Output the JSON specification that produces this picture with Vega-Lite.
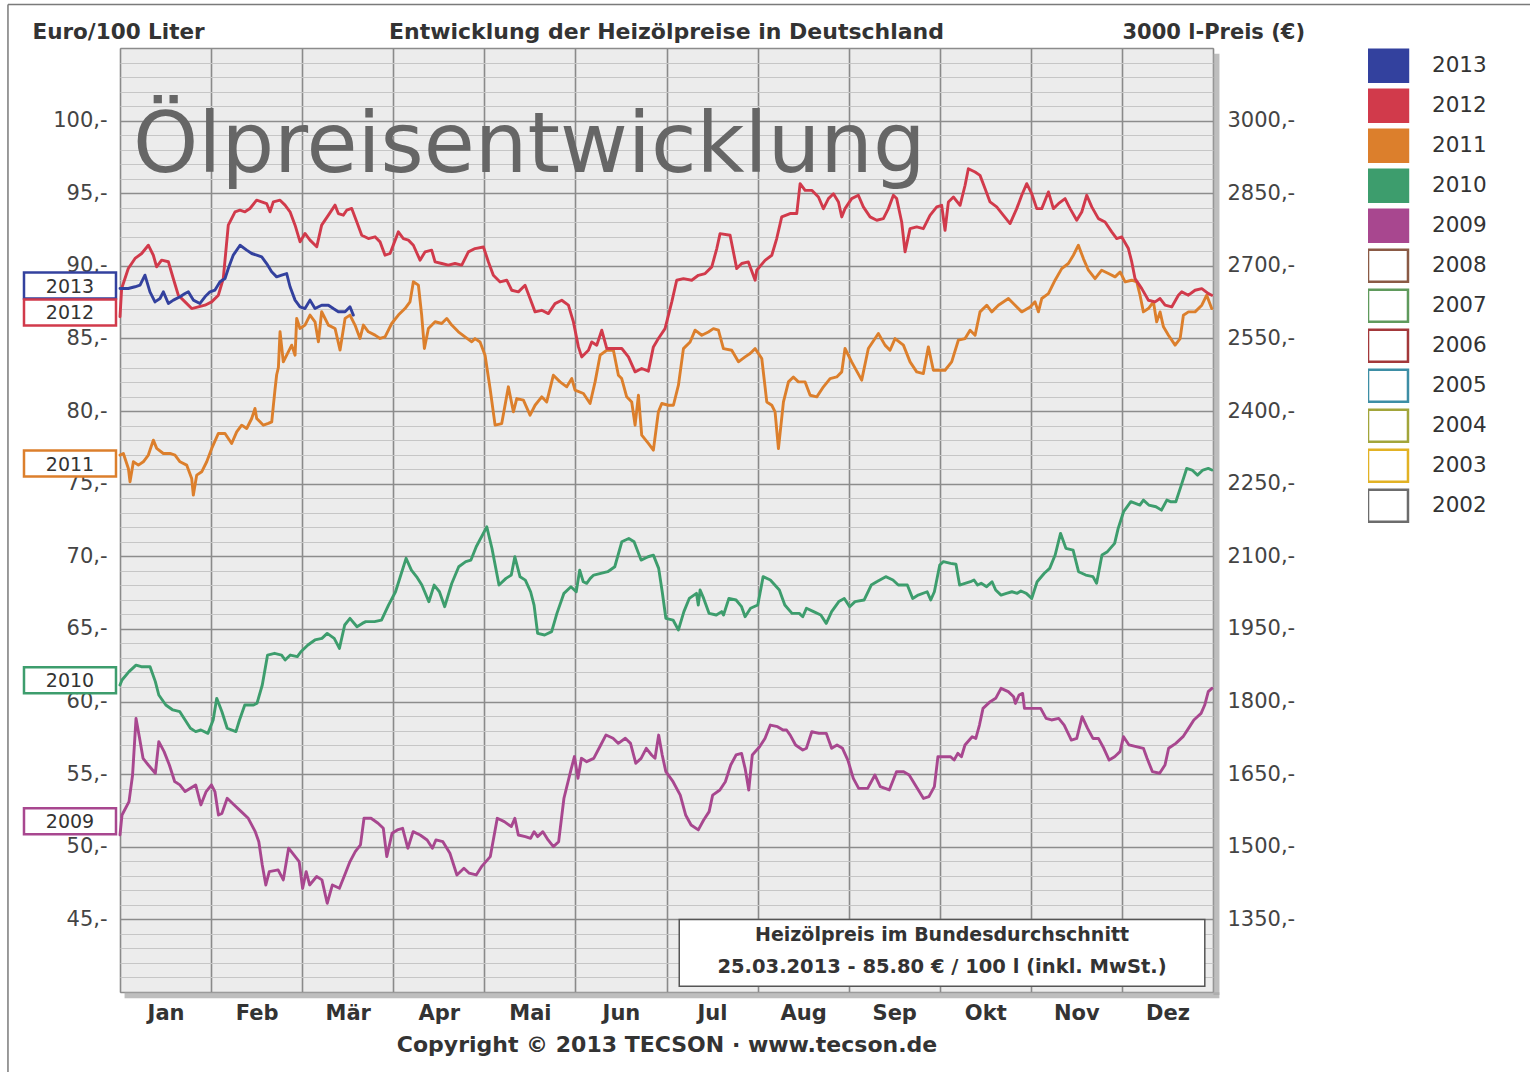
{
"$schema":"https://vega.github.io/schema/vega-lite/v6.json",
"width":1093,"height":944,
"autosize":{"type":"none"},
"padding":{"left":120,"top":48,"right":317,"bottom":80},
"background":"#ffffff",
"config":{"font":"DejaVu Sans","view":{"fill":"#ececec","stroke":"#9a9a9a","strokeWidth":1}},
"title":{"text":"Entwicklung der Heizölpreise in Deutschland","anchor":"middle","fontSize":22,"fontWeight":"bold","color":"#333333","offset":-40,"font":"DejaVu Sans"},
"data":{"values":[
{"year":"2009","m":0,"v":50.82},{"year":"2009","m":0.022,"v":52.19},{"year":"2009","m":0.099,"v":53.11},{"year":"2009","m":0.138,"v":54.94},{"year":"2009","m":0.176,"v":58.84},{"year":"2009","m":0.215,"v":57.47},{"year":"2009","m":0.253,"v":56.09},{"year":"2009","m":0.311,"v":55.63},{"year":"2009","m":0.388,"v":55.06},{"year":"2009","m":0.426,"v":57.24},{"year":"2009","m":0.484,"v":56.55},{"year":"2009","m":0.542,"v":55.63},{"year":"2009","m":0.6,"v":54.49},{"year":"2009","m":0.657,"v":54.26},{"year":"2009","m":0.715,"v":53.8},{"year":"2009","m":0.773,"v":54.03},{"year":"2009","m":0.831,"v":54.26},{"year":"2009","m":0.888,"v":52.88},{"year":"2009","m":0.946,"v":53.8},{"year":"2009","m":1.004,"v":54.26},{"year":"2009","m":1.042,"v":53.8},{"year":"2009","m":1.081,"v":52.19},{"year":"2009","m":1.119,"v":52.3},{"year":"2009","m":1.177,"v":53.34},{"year":"2009","m":1.254,"v":52.88},{"year":"2009","m":1.331,"v":52.42},{"year":"2009","m":1.408,"v":51.96},{"year":"2009","m":1.485,"v":51.04},{"year":"2009","m":1.524,"v":50.35},{"year":"2009","m":1.562,"v":48.75},{"year":"2009","m":1.601,"v":47.37},{"year":"2009","m":1.639,"v":48.29},{"year":"2009","m":1.736,"v":48.41},{"year":"2009","m":1.793,"v":47.72},{"year":"2009","m":1.851,"v":49.9},{"year":"2009","m":1.909,"v":49.44},{"year":"2009","m":1.967,"v":48.98},{"year":"2009","m":2.005,"v":47.14},{"year":"2009","m":2.044,"v":48.29},{"year":"2009","m":2.082,"v":47.37},{"year":"2009","m":2.159,"v":47.95},{"year":"2009","m":2.217,"v":47.72},{"year":"2009","m":2.275,"v":46.11},{"year":"2009","m":2.332,"v":47.37},{"year":"2009","m":2.409,"v":47.14},{"year":"2009","m":2.467,"v":48.06},{"year":"2009","m":2.525,"v":48.98},{"year":"2009","m":2.583,"v":49.67},{"year":"2009","m":2.64,"v":50.13},{"year":"2009","m":2.679,"v":51.96},{"year":"2009","m":2.756,"v":51.96},{"year":"2009","m":2.833,"v":51.62},{"year":"2009","m":2.891,"v":51.27},{"year":"2009","m":2.929,"v":49.32},{"year":"2009","m":2.987,"v":50.93},{"year":"2009","m":3.045,"v":51.16},{"year":"2009","m":3.103,"v":51.27},{"year":"2009","m":3.16,"v":49.9},{"year":"2009","m":3.218,"v":51.04},{"year":"2009","m":3.295,"v":50.81},{"year":"2009","m":3.372,"v":50.47},{"year":"2009","m":3.43,"v":49.9},{"year":"2009","m":3.468,"v":50.47},{"year":"2009","m":3.545,"v":50.35},{"year":"2009","m":3.622,"v":49.55},{"year":"2009","m":3.699,"v":48.06},{"year":"2009","m":3.776,"v":48.52},{"year":"2009","m":3.834,"v":48.18},{"year":"2009","m":3.911,"v":48.06},{"year":"2009","m":3.969,"v":48.63},{"year":"2009","m":4.065,"v":49.32},{"year":"2009","m":4.142,"v":51.96},{"year":"2009","m":4.219,"v":51.73},{"year":"2009","m":4.296,"v":51.39},{"year":"2009","m":4.335,"v":51.96},{"year":"2009","m":4.373,"v":50.81},{"year":"2009","m":4.45,"v":50.7},{"year":"2009","m":4.508,"v":50.58},{"year":"2009","m":4.546,"v":51.04},{"year":"2009","m":4.585,"v":50.7},{"year":"2009","m":4.643,"v":51.04},{"year":"2009","m":4.7,"v":50.47},{"year":"2009","m":4.758,"v":50.01},{"year":"2009","m":4.816,"v":50.35},{"year":"2009","m":4.874,"v":53.34},{"year":"2009","m":4.951,"v":55.29},{"year":"2009","m":4.989,"v":56.21},{"year":"2009","m":5.028,"v":54.72},{"year":"2009","m":5.066,"v":56.09},{"year":"2009","m":5.124,"v":55.86},{"year":"2009","m":5.201,"v":56.09},{"year":"2009","m":5.278,"v":57.01},{"year":"2009","m":5.336,"v":57.7},{"year":"2009","m":5.413,"v":57.47},{"year":"2009","m":5.471,"v":57.12},{"year":"2009","m":5.548,"v":57.47},{"year":"2009","m":5.605,"v":57.12},{"year":"2009","m":5.663,"v":55.75},{"year":"2009","m":5.721,"v":56.09},{"year":"2009","m":5.778,"v":56.78},{"year":"2009","m":5.836,"v":56.32},{"year":"2009","m":5.874,"v":56.09},{"year":"2009","m":5.914,"v":57.69},{"year":"2009","m":5.953,"v":56.32},{"year":"2009","m":5.993,"v":55.17},{"year":"2009","m":6.072,"v":54.48},{"year":"2009","m":6.151,"v":53.56},{"year":"2009","m":6.21,"v":52.19},{"year":"2009","m":6.27,"v":51.5},{"year":"2009","m":6.349,"v":51.16},{"year":"2009","m":6.408,"v":51.84},{"year":"2009","m":6.468,"v":52.42},{"year":"2009","m":6.507,"v":53.56},{"year":"2009","m":6.586,"v":53.91},{"year":"2009","m":6.646,"v":54.48},{"year":"2009","m":6.705,"v":55.63},{"year":"2009","m":6.764,"v":56.32},{"year":"2009","m":6.824,"v":56.43},{"year":"2009","m":6.863,"v":55.4},{"year":"2009","m":6.903,"v":53.91},{"year":"2009","m":6.942,"v":56.32},{"year":"2009","m":7.022,"v":56.89},{"year":"2009","m":7.081,"v":57.46},{"year":"2009","m":7.14,"v":58.38},{"year":"2009","m":7.219,"v":58.27},{"year":"2009","m":7.279,"v":58.04},{"year":"2009","m":7.318,"v":58.04},{"year":"2009","m":7.358,"v":57.69},{"year":"2009","m":7.417,"v":57.01},{"year":"2009","m":7.496,"v":56.66},{"year":"2009","m":7.536,"v":56.78},{"year":"2009","m":7.595,"v":57.92},{"year":"2009","m":7.674,"v":57.81},{"year":"2009","m":7.754,"v":57.81},{"year":"2009","m":7.813,"v":56.78},{"year":"2009","m":7.872,"v":57.01},{"year":"2009","m":7.932,"v":56.78},{"year":"2009","m":7.991,"v":55.97},{"year":"2009","m":8.051,"v":54.71},{"year":"2009","m":8.11,"v":54.02},{"year":"2009","m":8.209,"v":54.02},{"year":"2009","m":8.288,"v":54.94},{"year":"2009","m":8.347,"v":54.14},{"year":"2009","m":8.446,"v":53.91},{"year":"2009","m":8.525,"v":55.17},{"year":"2009","m":8.604,"v":55.17},{"year":"2009","m":8.664,"v":54.94},{"year":"2009","m":8.743,"v":54.14},{"year":"2009","m":8.822,"v":53.33},{"year":"2009","m":8.881,"v":53.45},{"year":"2009","m":8.941,"v":54.14},{"year":"2009","m":8.98,"v":56.2},{"year":"2009","m":9.06,"v":56.2},{"year":"2009","m":9.119,"v":56.2},{"year":"2009","m":9.158,"v":55.97},{"year":"2009","m":9.198,"v":56.43},{"year":"2009","m":9.238,"v":56.2},{"year":"2009","m":9.277,"v":57.01},{"year":"2009","m":9.356,"v":57.58},{"year":"2009","m":9.396,"v":57.46},{"year":"2009","m":9.436,"v":58.38},{"year":"2009","m":9.475,"v":59.53},{"year":"2009","m":9.554,"v":59.99},{"year":"2009","m":9.614,"v":60.22},{"year":"2009","m":9.673,"v":60.91},{"year":"2009","m":9.752,"v":60.68},{"year":"2009","m":9.811,"v":60.33},{"year":"2009","m":9.831,"v":59.87},{"year":"2009","m":9.871,"v":60.45},{"year":"2009","m":9.91,"v":60.56},{"year":"2009","m":9.93,"v":59.53},{"year":"2009","m":10.01,"v":59.53},{"year":"2009","m":10.108,"v":59.53},{"year":"2009","m":10.168,"v":58.84},{"year":"2009","m":10.227,"v":58.73},{"year":"2009","m":10.306,"v":58.84},{"year":"2009","m":10.366,"v":58.38},{"year":"2009","m":10.445,"v":57.35},{"year":"2009","m":10.504,"v":57.46},{"year":"2009","m":10.563,"v":58.96},{"year":"2009","m":10.623,"v":58.15},{"year":"2009","m":10.682,"v":57.46},{"year":"2009","m":10.742,"v":57.46},{"year":"2009","m":10.801,"v":56.78},{"year":"2009","m":10.86,"v":55.97},{"year":"2009","m":10.92,"v":56.2},{"year":"2009","m":10.979,"v":56.55},{"year":"2009","m":11.018,"v":57.58},{"year":"2009","m":11.078,"v":57.01},{"year":"2009","m":11.157,"v":56.89},{"year":"2009","m":11.236,"v":56.78},{"year":"2009","m":11.276,"v":56.09},{"year":"2009","m":11.335,"v":55.17},{"year":"2009","m":11.414,"v":55.06},{"year":"2009","m":11.473,"v":55.63},{"year":"2009","m":11.513,"v":56.78},{"year":"2009","m":11.592,"v":57.12},{"year":"2009","m":11.671,"v":57.58},{"year":"2009","m":11.731,"v":58.15},{"year":"2009","m":11.79,"v":58.73},{"year":"2009","m":11.869,"v":59.18},{"year":"2009","m":11.909,"v":59.76},{"year":"2009","m":11.948,"v":60.68},{"year":"2009","m":11.988,"v":60.91},
{"year":"2010","m":0,"v":61.14},{"year":"2010","m":0.022,"v":61.48},{"year":"2010","m":0.099,"v":62.06},{"year":"2010","m":0.176,"v":62.51},{"year":"2010","m":0.234,"v":62.4},{"year":"2010","m":0.33,"v":62.4},{"year":"2010","m":0.388,"v":61.37},{"year":"2010","m":0.426,"v":60.45},{"year":"2010","m":0.503,"v":59.76},{"year":"2010","m":0.58,"v":59.42},{"year":"2010","m":0.657,"v":59.3},{"year":"2010","m":0.715,"v":58.73},{"year":"2010","m":0.773,"v":58.16},{"year":"2010","m":0.831,"v":57.93},{"year":"2010","m":0.888,"v":58.04},{"year":"2010","m":0.965,"v":57.81},{"year":"2010","m":1.023,"v":58.73},{"year":"2010","m":1.062,"v":60.22},{"year":"2010","m":1.119,"v":59.3},{"year":"2010","m":1.177,"v":58.16},{"year":"2010","m":1.273,"v":57.93},{"year":"2010","m":1.312,"v":58.73},{"year":"2010","m":1.37,"v":59.76},{"year":"2010","m":1.466,"v":59.76},{"year":"2010","m":1.504,"v":59.88},{"year":"2010","m":1.562,"v":61.14},{"year":"2010","m":1.62,"v":63.2},{"year":"2010","m":1.697,"v":63.32},{"year":"2010","m":1.774,"v":63.2},{"year":"2010","m":1.813,"v":62.86},{"year":"2010","m":1.87,"v":63.2},{"year":"2010","m":1.947,"v":63.09},{"year":"2010","m":1.986,"v":63.43},{"year":"2010","m":2.063,"v":63.89},{"year":"2010","m":2.14,"v":64.24},{"year":"2010","m":2.217,"v":64.35},{"year":"2010","m":2.275,"v":64.69},{"year":"2010","m":2.352,"v":64.35},{"year":"2010","m":2.409,"v":63.66},{"year":"2010","m":2.467,"v":65.27},{"year":"2010","m":2.525,"v":65.73},{"year":"2010","m":2.602,"v":65.15},{"year":"2010","m":2.66,"v":65.38},{"year":"2010","m":2.698,"v":65.5},{"year":"2010","m":2.794,"v":65.5},{"year":"2010","m":2.871,"v":65.61},{"year":"2010","m":2.948,"v":66.64},{"year":"2010","m":3.025,"v":67.56},{"year":"2010","m":3.083,"v":68.71},{"year":"2010","m":3.141,"v":69.86},{"year":"2010","m":3.199,"v":69.05},{"year":"2010","m":3.257,"v":68.59},{"year":"2010","m":3.314,"v":68.02},{"year":"2010","m":3.391,"v":66.87},{"year":"2010","m":3.449,"v":68.02},{"year":"2010","m":3.507,"v":67.56},{"year":"2010","m":3.565,"v":66.53},{"year":"2010","m":3.642,"v":68.13},{"year":"2010","m":3.719,"v":69.28},{"year":"2010","m":3.796,"v":69.63},{"year":"2010","m":3.853,"v":69.74},{"year":"2010","m":3.911,"v":70.66},{"year":"2010","m":4.027,"v":72.03},{"year":"2010","m":4.084,"v":70.54},{"year":"2010","m":4.161,"v":68.02},{"year":"2010","m":4.238,"v":68.48},{"year":"2010","m":4.296,"v":68.71},{"year":"2010","m":4.335,"v":69.97},{"year":"2010","m":4.392,"v":68.59},{"year":"2010","m":4.45,"v":68.36},{"year":"2010","m":4.508,"v":67.56},{"year":"2010","m":4.546,"v":66.64},{"year":"2010","m":4.585,"v":64.69},{"year":"2010","m":4.662,"v":64.58},{"year":"2010","m":4.739,"v":64.81},{"year":"2010","m":4.797,"v":66.07},{"year":"2010","m":4.874,"v":67.45},{"year":"2010","m":4.951,"v":67.9},{"year":"2010","m":5.009,"v":67.56},{"year":"2010","m":5.047,"v":69.05},{"year":"2010","m":5.086,"v":68.25},{"year":"2010","m":5.124,"v":68.14},{"year":"2010","m":5.163,"v":68.48},{"year":"2010","m":5.201,"v":68.71},{"year":"2010","m":5.278,"v":68.82},{"year":"2010","m":5.355,"v":68.94},{"year":"2010","m":5.432,"v":69.28},{"year":"2010","m":5.509,"v":71.0},{"year":"2010","m":5.586,"v":71.23},{"year":"2010","m":5.644,"v":71.0},{"year":"2010","m":5.721,"v":69.74},{"year":"2010","m":5.798,"v":69.97},{"year":"2010","m":5.856,"v":70.08},{"year":"2010","m":5.914,"v":69.17},{"year":"2010","m":5.953,"v":67.56},{"year":"2010","m":5.993,"v":65.73},{"year":"2010","m":6.072,"v":65.61},{"year":"2010","m":6.131,"v":64.93},{"year":"2010","m":6.191,"v":66.19},{"year":"2010","m":6.25,"v":67.1},{"year":"2010","m":6.329,"v":67.45},{"year":"2010","m":6.349,"v":66.65},{"year":"2010","m":6.369,"v":67.68},{"year":"2010","m":6.408,"v":67.1},{"year":"2010","m":6.468,"v":66.07},{"year":"2010","m":6.547,"v":65.96},{"year":"2010","m":6.606,"v":66.19},{"year":"2010","m":6.626,"v":65.96},{"year":"2010","m":6.685,"v":67.1},{"year":"2010","m":6.764,"v":66.99},{"year":"2010","m":6.824,"v":66.53},{"year":"2010","m":6.863,"v":65.84},{"year":"2010","m":6.923,"v":66.42},{"year":"2010","m":7.002,"v":66.65},{"year":"2010","m":7.061,"v":68.6},{"year":"2010","m":7.14,"v":68.37},{"year":"2010","m":7.239,"v":67.68},{"year":"2010","m":7.299,"v":66.65},{"year":"2010","m":7.378,"v":66.07},{"year":"2010","m":7.457,"v":66.07},{"year":"2010","m":7.496,"v":65.84},{"year":"2010","m":7.536,"v":66.42},{"year":"2010","m":7.615,"v":66.19},{"year":"2010","m":7.694,"v":65.96},{"year":"2010","m":7.754,"v":65.38},{"year":"2010","m":7.813,"v":66.19},{"year":"2010","m":7.892,"v":66.88},{"year":"2010","m":7.952,"v":67.1},{"year":"2010","m":8.011,"v":66.53},{"year":"2010","m":8.07,"v":66.88},{"year":"2010","m":8.169,"v":66.99},{"year":"2010","m":8.248,"v":68.02},{"year":"2010","m":8.308,"v":68.25},{"year":"2010","m":8.407,"v":68.6},{"year":"2010","m":8.486,"v":68.37},{"year":"2010","m":8.545,"v":68.02},{"year":"2010","m":8.644,"v":68.02},{"year":"2010","m":8.703,"v":67.1},{"year":"2010","m":8.763,"v":67.33},{"year":"2010","m":8.862,"v":67.56},{"year":"2010","m":8.901,"v":66.99},{"year":"2010","m":8.941,"v":67.56},{"year":"2010","m":9.0,"v":69.4},{"year":"2010","m":9.04,"v":69.63},{"year":"2010","m":9.119,"v":69.51},{"year":"2010","m":9.178,"v":69.45},{"year":"2010","m":9.218,"v":68.02},{"year":"2010","m":9.277,"v":68.14},{"year":"2010","m":9.337,"v":68.25},{"year":"2010","m":9.376,"v":68.37},{"year":"2010","m":9.416,"v":68.02},{"year":"2010","m":9.455,"v":68.14},{"year":"2010","m":9.515,"v":67.91},{"year":"2010","m":9.574,"v":68.25},{"year":"2010","m":9.614,"v":67.68},{"year":"2010","m":9.673,"v":67.33},{"year":"2010","m":9.732,"v":67.45},{"year":"2010","m":9.792,"v":67.56},{"year":"2010","m":9.851,"v":67.45},{"year":"2010","m":9.891,"v":67.61},{"year":"2010","m":9.95,"v":67.45},{"year":"2010","m":10.01,"v":67.1},{"year":"2010","m":10.069,"v":68.25},{"year":"2010","m":10.148,"v":68.83},{"year":"2010","m":10.207,"v":69.17},{"year":"2010","m":10.267,"v":70.09},{"year":"2010","m":10.326,"v":71.58},{"year":"2010","m":10.385,"v":70.55},{"year":"2010","m":10.464,"v":70.43},{"year":"2010","m":10.524,"v":68.94},{"year":"2010","m":10.603,"v":68.71},{"year":"2010","m":10.682,"v":68.6},{"year":"2010","m":10.722,"v":68.14},{"year":"2010","m":10.781,"v":70.09},{"year":"2010","m":10.841,"v":70.32},{"year":"2010","m":10.92,"v":70.89},{"year":"2010","m":10.959,"v":71.92},{"year":"2010","m":11.018,"v":73.07},{"year":"2010","m":11.098,"v":73.76},{"year":"2010","m":11.197,"v":73.53},{"year":"2010","m":11.236,"v":73.87},{"year":"2010","m":11.295,"v":73.53},{"year":"2010","m":11.374,"v":73.41},{"year":"2010","m":11.434,"v":73.18},{"year":"2010","m":11.493,"v":73.87},{"year":"2010","m":11.533,"v":73.76},{"year":"2010","m":11.592,"v":73.76},{"year":"2010","m":11.652,"v":74.9},{"year":"2010","m":11.711,"v":76.05},{"year":"2010","m":11.77,"v":75.94},{"year":"2010","m":11.83,"v":75.59},{"year":"2010","m":11.889,"v":75.94},{"year":"2010","m":11.948,"v":76.05},{"year":"2010","m":11.988,"v":75.94},
{"year":"2011","m":0,"v":76.97},{"year":"2011","m":0.037,"v":77.08},{"year":"2011","m":0.092,"v":76.05},{"year":"2011","m":0.11,"v":75.13},{"year":"2011","m":0.147,"v":76.51},{"year":"2011","m":0.202,"v":76.28},{"year":"2011","m":0.256,"v":76.51},{"year":"2011","m":0.311,"v":76.97},{"year":"2011","m":0.366,"v":78.0},{"year":"2011","m":0.403,"v":77.43},{"year":"2011","m":0.476,"v":77.08},{"year":"2011","m":0.549,"v":77.08},{"year":"2011","m":0.604,"v":76.97},{"year":"2011","m":0.659,"v":76.51},{"year":"2011","m":0.732,"v":76.28},{"year":"2011","m":0.787,"v":75.36},{"year":"2011","m":0.805,"v":74.21},{"year":"2011","m":0.842,"v":75.59},{"year":"2011","m":0.897,"v":75.82},{"year":"2011","m":0.952,"v":76.51},{"year":"2011","m":1.007,"v":77.43},{"year":"2011","m":1.08,"v":78.46},{"year":"2011","m":1.153,"v":78.46},{"year":"2011","m":1.226,"v":77.77},{"year":"2011","m":1.281,"v":78.57},{"year":"2011","m":1.336,"v":79.03},{"year":"2011","m":1.391,"v":78.8},{"year":"2011","m":1.446,"v":79.49},{"year":"2011","m":1.482,"v":80.18},{"year":"2011","m":1.501,"v":79.49},{"year":"2011","m":1.537,"v":79.26},{"year":"2011","m":1.574,"v":79.03},{"year":"2011","m":1.629,"v":79.15},{"year":"2011","m":1.666,"v":79.26},{"year":"2011","m":1.684,"v":80.4},{"year":"2011","m":1.702,"v":81.5},{"year":"2011","m":1.72,"v":82.5},{"year":"2011","m":1.739,"v":83.0},{"year":"2011","m":1.757,"v":85.46},{"year":"2011","m":1.793,"v":83.39},{"year":"2011","m":1.83,"v":83.85},{"year":"2011","m":1.885,"v":84.54},{"year":"2011","m":1.922,"v":83.85},{"year":"2011","m":1.94,"v":86.38},{"year":"2011","m":1.976,"v":85.69},{"year":"2011","m":2.031,"v":85.92},{"year":"2011","m":2.086,"v":86.61},{"year":"2011","m":2.141,"v":86.15},{"year":"2011","m":2.178,"v":84.77},{"year":"2011","m":2.214,"v":86.84},{"year":"2011","m":2.288,"v":85.92},{"year":"2011","m":2.361,"v":85.69},{"year":"2011","m":2.416,"v":84.2},{"year":"2011","m":2.471,"v":86.38},{"year":"2011","m":2.525,"v":86.61},{"year":"2011","m":2.58,"v":85.92},{"year":"2011","m":2.635,"v":85.0},{"year":"2011","m":2.672,"v":85.92},{"year":"2011","m":2.727,"v":85.46},{"year":"2011","m":2.8,"v":85.23},{"year":"2011","m":2.855,"v":85.0},{"year":"2011","m":2.91,"v":85.11},{"year":"2011","m":2.983,"v":86.03},{"year":"2011","m":3.056,"v":86.61},{"year":"2011","m":3.129,"v":87.06},{"year":"2011","m":3.184,"v":87.52},{"year":"2011","m":3.221,"v":88.9},{"year":"2011","m":3.276,"v":88.67},{"year":"2011","m":3.312,"v":86.61},{"year":"2011","m":3.342,"v":84.31},{"year":"2011","m":3.386,"v":85.69},{"year":"2011","m":3.459,"v":86.15},{"year":"2011","m":3.532,"v":86.03},{"year":"2011","m":3.587,"v":86.38},{"year":"2011","m":3.642,"v":85.92},{"year":"2011","m":3.715,"v":85.46},{"year":"2011","m":3.788,"v":85.11},{"year":"2011","m":3.862,"v":84.77},{"year":"2011","m":3.898,"v":84.99},{"year":"2011","m":3.953,"v":84.76},{"year":"2011","m":4.008,"v":83.85},{"year":"2011","m":4.063,"v":81.55},{"year":"2011","m":4.118,"v":79.03},{"year":"2011","m":4.191,"v":79.14},{"year":"2011","m":4.264,"v":81.67},{"year":"2011","m":4.319,"v":79.95},{"year":"2011","m":4.356,"v":80.86},{"year":"2011","m":4.429,"v":80.75},{"year":"2011","m":4.502,"v":79.72},{"year":"2011","m":4.557,"v":80.4},{"year":"2011","m":4.63,"v":80.98},{"year":"2011","m":4.685,"v":80.63},{"year":"2011","m":4.758,"v":82.47},{"year":"2011","m":4.831,"v":82.01},{"year":"2011","m":4.905,"v":81.67},{"year":"2011","m":4.96,"v":82.24},{"year":"2011","m":4.996,"v":81.44},{"year":"2011","m":5.088,"v":81.21},{"year":"2011","m":5.161,"v":80.52},{"year":"2011","m":5.216,"v":82.01},{"year":"2011","m":5.271,"v":83.85},{"year":"2011","m":5.344,"v":84.19},{"year":"2011","m":5.417,"v":84.19},{"year":"2011","m":5.472,"v":82.47},{"year":"2011","m":5.508,"v":82.24},{"year":"2011","m":5.563,"v":80.98},{"year":"2011","m":5.618,"v":80.63},{"year":"2011","m":5.655,"v":79.03},{"year":"2011","m":5.692,"v":81.09},{"year":"2011","m":5.728,"v":78.34},{"year":"2011","m":5.801,"v":77.77},{"year":"2011","m":5.856,"v":77.31},{"year":"2011","m":5.911,"v":79.95},{"year":"2011","m":5.948,"v":80.52},{"year":"2011","m":6.021,"v":80.4},{"year":"2011","m":6.076,"v":80.4},{"year":"2011","m":6.131,"v":81.78},{"year":"2011","m":6.186,"v":84.3},{"year":"2011","m":6.259,"v":84.76},{"year":"2011","m":6.314,"v":85.57},{"year":"2011","m":6.387,"v":85.22},{"year":"2011","m":6.46,"v":85.45},{"year":"2011","m":6.515,"v":85.68},{"year":"2011","m":6.57,"v":85.57},{"year":"2011","m":6.625,"v":84.3},{"year":"2011","m":6.716,"v":84.19},{"year":"2011","m":6.79,"v":83.39},{"year":"2011","m":6.863,"v":83.73},{"year":"2011","m":6.918,"v":83.96},{"year":"2011","m":6.973,"v":84.3},{"year":"2011","m":7.046,"v":83.62},{"year":"2011","m":7.101,"v":80.63},{"year":"2011","m":7.156,"v":80.4},{"year":"2011","m":7.192,"v":79.95},{"year":"2011","m":7.229,"v":77.42},{"year":"2011","m":7.284,"v":80.63},{"year":"2011","m":7.339,"v":82.01},{"year":"2011","m":7.393,"v":82.35},{"year":"2011","m":7.448,"v":82.01},{"year":"2011","m":7.522,"v":82.01},{"year":"2011","m":7.577,"v":81.09},{"year":"2011","m":7.65,"v":80.98},{"year":"2011","m":7.723,"v":81.67},{"year":"2011","m":7.796,"v":82.24},{"year":"2011","m":7.869,"v":82.35},{"year":"2011","m":7.924,"v":82.7},{"year":"2011","m":7.96,"v":84.31},{"year":"2011","m":8.033,"v":83.39},{"year":"2011","m":8.143,"v":82.13},{"year":"2011","m":8.216,"v":84.31},{"year":"2011","m":8.326,"v":85.34},{"year":"2011","m":8.399,"v":84.54},{"year":"2011","m":8.454,"v":84.19},{"year":"2011","m":8.509,"v":84.99},{"year":"2011","m":8.601,"v":84.54},{"year":"2011","m":8.674,"v":83.39},{"year":"2011","m":8.747,"v":82.7},{"year":"2011","m":8.82,"v":82.58},{"year":"2011","m":8.875,"v":84.42},{"year":"2011","m":8.93,"v":82.81},{"year":"2011","m":9.003,"v":82.81},{"year":"2011","m":9.058,"v":82.81},{"year":"2011","m":9.131,"v":83.39},{"year":"2011","m":9.204,"v":84.88},{"year":"2011","m":9.278,"v":84.99},{"year":"2011","m":9.333,"v":85.57},{"year":"2011","m":9.388,"v":85.22},{"year":"2011","m":9.442,"v":86.83},{"year":"2011","m":9.516,"v":87.29},{"year":"2011","m":9.571,"v":86.83},{"year":"2011","m":9.644,"v":87.29},{"year":"2011","m":9.754,"v":87.75},{"year":"2011","m":9.827,"v":87.29},{"year":"2011","m":9.9,"v":86.83},{"year":"2011","m":9.992,"v":87.17},{"year":"2011","m":10.046,"v":87.52},{"year":"2011","m":10.083,"v":86.83},{"year":"2011","m":10.12,"v":87.75},{"year":"2011","m":10.193,"v":88.09},{"year":"2011","m":10.266,"v":89.01},{"year":"2011","m":10.339,"v":89.81},{"year":"2011","m":10.412,"v":90.16},{"year":"2011","m":10.467,"v":90.73},{"year":"2011","m":10.522,"v":91.42},{"year":"2011","m":10.577,"v":90.5},{"year":"2011","m":10.632,"v":89.7},{"year":"2011","m":10.705,"v":89.12},{"year":"2011","m":10.778,"v":89.7},{"year":"2011","m":10.852,"v":89.47},{"year":"2011","m":10.925,"v":89.24},{"year":"2011","m":10.98,"v":89.58},{"year":"2011","m":11.035,"v":88.89},{"year":"2011","m":11.108,"v":89.01},{"year":"2011","m":11.163,"v":88.89},{"year":"2011","m":11.199,"v":87.98},{"year":"2011","m":11.236,"v":86.83},{"year":"2011","m":11.291,"v":87.06},{"year":"2011","m":11.346,"v":87.52},{"year":"2011","m":11.382,"v":86.14},{"year":"2011","m":11.419,"v":86.83},{"year":"2011","m":11.456,"v":85.8},{"year":"2011","m":11.511,"v":85.22},{"year":"2011","m":11.584,"v":84.54},{"year":"2011","m":11.639,"v":84.99},{"year":"2011","m":11.675,"v":86.6},{"year":"2011","m":11.73,"v":86.83},{"year":"2011","m":11.803,"v":86.83},{"year":"2011","m":11.877,"v":87.29},{"year":"2011","m":11.931,"v":87.98},{"year":"2011","m":11.986,"v":87.06},
{"year":"2012","m":0,"v":86.5},{"year":"2012","m":0.018,"v":88.44},{"year":"2012","m":0.091,"v":89.82},{"year":"2012","m":0.165,"v":90.51},{"year":"2012","m":0.238,"v":90.85},{"year":"2012","m":0.311,"v":91.42},{"year":"2012","m":0.366,"v":90.73},{"year":"2012","m":0.402,"v":89.93},{"year":"2012","m":0.457,"v":90.39},{"year":"2012","m":0.531,"v":90.28},{"year":"2012","m":0.585,"v":89.13},{"year":"2012","m":0.64,"v":87.98},{"year":"2012","m":0.714,"v":87.52},{"year":"2012","m":0.787,"v":87.06},{"year":"2012","m":0.86,"v":87.18},{"year":"2012","m":0.933,"v":87.29},{"year":"2012","m":1.006,"v":87.52},{"year":"2012","m":1.08,"v":87.98},{"year":"2012","m":1.134,"v":89.13},{"year":"2012","m":1.189,"v":92.8},{"year":"2012","m":1.263,"v":93.72},{"year":"2012","m":1.317,"v":93.83},{"year":"2012","m":1.372,"v":93.72},{"year":"2012","m":1.427,"v":93.95},{"year":"2012","m":1.5,"v":94.52},{"year":"2012","m":1.555,"v":94.41},{"year":"2012","m":1.61,"v":94.29},{"year":"2012","m":1.647,"v":93.72},{"year":"2012","m":1.684,"v":94.41},{"year":"2012","m":1.757,"v":94.52},{"year":"2012","m":1.812,"v":94.18},{"year":"2012","m":1.867,"v":93.72},{"year":"2012","m":1.922,"v":92.8},{"year":"2012","m":1.977,"v":91.65},{"year":"2012","m":2.031,"v":92.23},{"year":"2012","m":2.086,"v":91.77},{"year":"2012","m":2.16,"v":91.31},{"year":"2012","m":2.214,"v":92.8},{"year":"2012","m":2.288,"v":93.49},{"year":"2012","m":2.361,"v":94.18},{"year":"2012","m":2.397,"v":93.6},{"year":"2012","m":2.452,"v":93.49},{"year":"2012","m":2.489,"v":93.83},{"year":"2012","m":2.544,"v":93.95},{"year":"2012","m":2.599,"v":93.03},{"year":"2012","m":2.654,"v":92.11},{"year":"2012","m":2.727,"v":91.88},{"year":"2012","m":2.8,"v":92.0},{"year":"2012","m":2.855,"v":91.65},{"year":"2012","m":2.91,"v":90.73},{"year":"2012","m":2.965,"v":90.85},{"year":"2012","m":3.056,"v":92.34},{"year":"2012","m":3.111,"v":91.88},{"year":"2012","m":3.166,"v":91.77},{"year":"2012","m":3.221,"v":91.42},{"year":"2012","m":3.294,"v":90.39},{"year":"2012","m":3.349,"v":90.96},{"year":"2012","m":3.422,"v":91.08},{"year":"2012","m":3.459,"v":90.28},{"year":"2012","m":3.532,"v":90.16},{"year":"2012","m":3.605,"v":90.05},{"year":"2012","m":3.678,"v":90.16},{"year":"2012","m":3.752,"v":90.05},{"year":"2012","m":3.825,"v":90.96},{"year":"2012","m":3.898,"v":91.19},{"year":"2012","m":3.99,"v":91.3},{"year":"2012","m":4.045,"v":90.27},{"year":"2012","m":4.099,"v":89.35},{"year":"2012","m":4.173,"v":88.89},{"year":"2012","m":4.246,"v":89.01},{"year":"2012","m":4.301,"v":88.32},{"year":"2012","m":4.374,"v":88.21},{"year":"2012","m":4.447,"v":88.66},{"year":"2012","m":4.502,"v":87.75},{"year":"2012","m":4.557,"v":86.83},{"year":"2012","m":4.63,"v":86.94},{"year":"2012","m":4.703,"v":86.71},{"year":"2012","m":4.776,"v":87.4},{"year":"2012","m":4.85,"v":87.63},{"year":"2012","m":4.923,"v":87.29},{"year":"2012","m":4.978,"v":86.14},{"year":"2012","m":5.033,"v":84.42},{"year":"2012","m":5.069,"v":83.73},{"year":"2012","m":5.143,"v":84.19},{"year":"2012","m":5.179,"v":84.76},{"year":"2012","m":5.234,"v":84.53},{"year":"2012","m":5.289,"v":85.57},{"year":"2012","m":5.344,"v":84.31},{"year":"2012","m":5.435,"v":84.31},{"year":"2012","m":5.509,"v":84.31},{"year":"2012","m":5.582,"v":83.73},{"year":"2012","m":5.655,"v":82.7},{"year":"2012","m":5.728,"v":82.93},{"year":"2012","m":5.801,"v":82.75},{"year":"2012","m":5.856,"v":84.42},{"year":"2012","m":5.911,"v":85.0},{"year":"2012","m":5.984,"v":85.68},{"year":"2012","m":6.058,"v":87.52},{"year":"2012","m":6.112,"v":89.01},{"year":"2012","m":6.186,"v":89.12},{"year":"2012","m":6.277,"v":89.01},{"year":"2012","m":6.35,"v":89.35},{"year":"2012","m":6.424,"v":89.47},{"year":"2012","m":6.497,"v":89.93},{"year":"2012","m":6.552,"v":91.19},{"year":"2012","m":6.588,"v":92.22},{"year":"2012","m":6.698,"v":92.11},{"year":"2012","m":6.771,"v":89.81},{"year":"2012","m":6.826,"v":90.16},{"year":"2012","m":6.899,"v":90.27},{"year":"2012","m":6.973,"v":89.01},{"year":"2012","m":6.991,"v":89.7},{"year":"2012","m":7.082,"v":90.38},{"year":"2012","m":7.156,"v":90.73},{"year":"2012","m":7.21,"v":91.88},{"year":"2012","m":7.265,"v":93.37},{"year":"2012","m":7.357,"v":93.6},{"year":"2012","m":7.43,"v":93.6},{"year":"2012","m":7.467,"v":95.66},{"year":"2012","m":7.522,"v":95.2},{"year":"2012","m":7.595,"v":95.2},{"year":"2012","m":7.668,"v":94.74},{"year":"2012","m":7.723,"v":93.94},{"year":"2012","m":7.778,"v":94.63},{"year":"2012","m":7.833,"v":94.97},{"year":"2012","m":7.888,"v":94.4},{"year":"2012","m":7.924,"v":93.37},{"year":"2012","m":7.96,"v":93.94},{"year":"2012","m":8.033,"v":94.63},{"year":"2012","m":8.106,"v":94.86},{"year":"2012","m":8.161,"v":94.06},{"year":"2012","m":8.235,"v":93.37},{"year":"2012","m":8.308,"v":93.14},{"year":"2012","m":8.381,"v":93.25},{"year":"2012","m":8.436,"v":93.94},{"year":"2012","m":8.491,"v":94.86},{"year":"2012","m":8.527,"v":94.63},{"year":"2012","m":8.582,"v":93.02},{"year":"2012","m":8.619,"v":90.96},{"year":"2012","m":8.674,"v":92.56},{"year":"2012","m":8.747,"v":92.68},{"year":"2012","m":8.82,"v":92.56},{"year":"2012","m":8.893,"v":93.48},{"year":"2012","m":8.967,"v":94.06},{"year":"2012","m":9.021,"v":94.17},{"year":"2012","m":9.058,"v":92.45},{"year":"2012","m":9.095,"v":94.4},{"year":"2012","m":9.15,"v":94.74},{"year":"2012","m":9.223,"v":94.17},{"year":"2012","m":9.278,"v":95.55},{"year":"2012","m":9.314,"v":96.69},{"year":"2012","m":9.388,"v":96.46},{"year":"2012","m":9.442,"v":96.23},{"year":"2012","m":9.497,"v":95.32},{"year":"2012","m":9.552,"v":94.4},{"year":"2012","m":9.625,"v":94.06},{"year":"2012","m":9.699,"v":93.48},{"year":"2012","m":9.772,"v":92.91},{"year":"2012","m":9.845,"v":93.94},{"year":"2012","m":9.9,"v":94.86},{"year":"2012","m":9.955,"v":95.66},{"year":"2012","m":10.01,"v":94.97},{"year":"2012","m":10.065,"v":93.94},{"year":"2012","m":10.12,"v":93.94},{"year":"2012","m":10.193,"v":95.09},{"year":"2012","m":10.248,"v":93.94},{"year":"2012","m":10.303,"v":94.28},{"year":"2012","m":10.376,"v":94.63},{"year":"2012","m":10.431,"v":93.94},{"year":"2012","m":10.504,"v":93.14},{"year":"2012","m":10.559,"v":93.71},{"year":"2012","m":10.614,"v":94.86},{"year":"2012","m":10.669,"v":94.06},{"year":"2012","m":10.742,"v":93.25},{"year":"2012","m":10.815,"v":93.02},{"year":"2012","m":10.888,"v":92.34},{"year":"2012","m":10.943,"v":91.88},{"year":"2012","m":10.998,"v":91.99},{"year":"2012","m":11.071,"v":91.19},{"year":"2012","m":11.108,"v":90.27},{"year":"2012","m":11.144,"v":89.12},{"year":"2012","m":11.218,"v":88.43},{"year":"2012","m":11.291,"v":87.63},{"year":"2012","m":11.364,"v":87.52},{"year":"2012","m":11.419,"v":87.75},{"year":"2012","m":11.474,"v":87.29},{"year":"2012","m":11.547,"v":87.17},{"year":"2012","m":11.62,"v":87.98},{"year":"2012","m":11.657,"v":88.21},{"year":"2012","m":11.73,"v":87.98},{"year":"2012","m":11.803,"v":88.32},{"year":"2012","m":11.877,"v":88.43},{"year":"2012","m":11.95,"v":88.09},{"year":"2012","m":11.986,"v":87.98},
{"year":"2013","m":0,"v":88.44},{"year":"2013","m":0.018,"v":88.44},{"year":"2013","m":0.091,"v":88.44},{"year":"2013","m":0.165,"v":88.56},{"year":"2013","m":0.22,"v":88.67},{"year":"2013","m":0.274,"v":89.36},{"year":"2013","m":0.329,"v":88.21},{"year":"2013","m":0.384,"v":87.52},{"year":"2013","m":0.439,"v":87.75},{"year":"2013","m":0.476,"v":88.21},{"year":"2013","m":0.531,"v":87.41},{"year":"2013","m":0.586,"v":87.64},{"year":"2013","m":0.659,"v":87.87},{"year":"2013","m":0.714,"v":88.1},{"year":"2013","m":0.75,"v":88.21},{"year":"2013","m":0.805,"v":87.64},{"year":"2013","m":0.878,"v":87.41},{"year":"2013","m":0.933,"v":87.87},{"year":"2013","m":0.988,"v":88.21},{"year":"2013","m":1.043,"v":88.33},{"year":"2013","m":1.098,"v":88.9},{"year":"2013","m":1.153,"v":89.13},{"year":"2013","m":1.189,"v":89.82},{"year":"2013","m":1.244,"v":90.74},{"year":"2013","m":1.318,"v":91.42},{"year":"2013","m":1.391,"v":91.08},{"year":"2013","m":1.446,"v":90.85},{"year":"2013","m":1.501,"v":90.74},{"year":"2013","m":1.556,"v":90.62},{"year":"2013","m":1.61,"v":90.16},{"year":"2013","m":1.665,"v":89.59},{"year":"2013","m":1.72,"v":89.24},{"year":"2013","m":1.775,"v":89.36},{"year":"2013","m":1.83,"v":89.47},{"year":"2013","m":1.867,"v":88.56},{"year":"2013","m":1.922,"v":87.64},{"year":"2013","m":1.976,"v":87.18},{"year":"2013","m":2.031,"v":87.06},{"year":"2013","m":2.086,"v":87.64},{"year":"2013","m":2.141,"v":87.06},{"year":"2013","m":2.214,"v":87.29},{"year":"2013","m":2.288,"v":87.29},{"year":"2013","m":2.342,"v":87.06},{"year":"2013","m":2.397,"v":86.84},{"year":"2013","m":2.471,"v":86.84},{"year":"2013","m":2.525,"v":87.18},{"year":"2013","m":2.562,"v":86.61}
]},
"layer":[
{"data":{"values":[{}]},
 "mark":{"type":"rule","color":"#7a7a7a","strokeWidth":1.5},
 "encoding":{"x":{"datum":-1.23,"type":"quantitative","axis":null},"y":{"datum":108.0,"type":"quantitative","axis":null},"y2":{"datum":34.5}}},
{"data":{"values":[{}]},
 "mark":{"type":"rule","color":"#7a7a7a","strokeWidth":1.5},
 "encoding":{"x":{"datum":-1.23,"type":"quantitative","axis":null},"x2":{"datum":15.6},"y":{"datum":108.0,"type":"quantitative","axis":null}}},
{"data":{"values":[{}]},
 "mark":{"type":"rule","color":"#a8a8a8","strokeWidth":6,"opacity":0.75},
 "encoding":{"x":{"datum":12.038,"type":"quantitative","axis":null},"y":{"datum":104.6,"type":"quantitative","axis":null},"y2":{"datum":39.8}}},
{"data":{"values":[{}]},
 "mark":{"type":"rule","color":"#a8a8a8","strokeWidth":6,"opacity":0.75},
 "encoding":{"x":{"datum":0.05,"type":"quantitative","axis":null},"x2":{"datum":12.07},"y":{"datum":39.77,"type":"quantitative","axis":null}}},
{"mark":{"type":"line","strokeWidth":2.9,"strokeJoin":"round","strokeCap":"round","interpolate":"linear"},
 "encoding":{
  "x":{"field":"m","type":"quantitative","scale":{"domain":[0,12],"nice":false,"zero":false},
   "axis":{"orient":"bottom","values":[0.5,1.5,2.5,3.5,4.5,5.5,6.5,7.5,8.5,9.5,10.5,11.5],"labelExpr":"['Jan','Feb','Mär','Apr','Mai','Jun','Jul','Aug','Sep','Okt','Nov','Dez'][floor(datum.value)]","grid":false,"ticks":false,"domain":false,"labelFontSize":21,"labelFontWeight":"bold","labelColor":"#333333","labelPadding":10,"title":"Copyright © 2013 TECSON · www.tecson.de","titleFontSize":22,"titleFontWeight":"bold","titleColor":"#333333","titlePadding":11}},
  "y":{"field":"v","type":"quantitative","scale":{"domain":[40,105],"nice":false,"zero":false},
   "axis":{"orient":"left","values":[45,50,55,60,65,70,75,80,85,90,95,100],"labelExpr":"datum.value + ',-'","grid":false,"ticks":false,"domain":false,"labelFontSize":21,"labelColor":"#444444","labelPadding":13,"title":"Euro/100 Liter","titleAngle":0,"titleAlign":"left","titleBaseline":"middle","titleX":-88,"titleY":-16,"titleFontSize":21.5,"titleFontWeight":"bold","titleColor":"#333333"}},
  "color":{"field":"year","type":"nominal",
   "scale":{"domain":["2013","2012","2011","2010","2009","2008","2007","2006","2005","2004","2003","2002"],"range":["#33419e","#d13a4b","#dc7f2c","#3d9d6d","#a8478f","#8a5a45","#5f9a5c","#a3383a","#3d8ea5","#a2a53a","#e2b224","#6c6c6c"]},
   "legend":{"orient":"none","legendX":1248,"legendY":-1.75,"title":null,"padding":0,"symbolType":"M-1.08,-0.865L1.08,-0.865L1.08,0.865L-1.08,0.865Z","symbolSize":1369,"symbolStrokeWidth":2.5,"labelFontSize":21.5,"labelColor":"#333333","labelOffset":24,"rowPadding":0,"clipHeight":39.2,"labelFont":"DejaVu Sans",
    "encode":{"symbols":{"update":{"fill":{"signal":"datum.value >= '2009' ? scale('color', datum.value) : '#ffffff'"},"stroke":{"scale":"color","field":"value"},"opacity":{"value":1},"fillOpacity":{"value":1}}}}}}
 }},
{"data":{"values":[{"year":"2013","v":88.64},{"year":"2012","v":86.79},{"year":"2011","v":76.39},{"year":"2010","v":61.46},{"year":"2009","v":51.76}]},
 "mark":{"type":"point","shape":"M-1,-0.283L1,-0.283L1,0.283L-1,0.283Z","size":8464,"filled":true,"fill":"#ffffff","fillOpacity":1,"strokeWidth":2.5,"opacity":1},
 "encoding":{
  "x":{"datum":-0.549,"type":"quantitative","scale":{"domain":[0,12],"nice":false,"zero":false},
   "axis":{"orient":"top","values":[0,1,2,3,4,5,6,7,8,9,10,11,12],"labels":false,"ticks":false,"domain":false,"grid":true,"gridColor":"#8a8a8a","gridWidth":1.6,"title":null}},
  "y":{"field":"v","type":"quantitative","scale":{"domain":[40,105],"nice":false,"zero":false},
   "axis":{"orient":"right","values":[40,41,42,43,44,45,46,47,48,49,50,51,52,53,54,55,56,57,58,59,60,61,62,63,64,65,66,67,68,69,70,71,72,73,74,75,76,77,78,79,80,81,82,83,84,85,86,87,88,89,90,91,92,93,94,95,96,97,98,99,100,101,102,103,104,105],
    "labelExpr":"(datum.value % 5 == 0 && datum.value >= 45 && datum.value <= 100) ? (datum.value * 30) + ',-' : ''","grid":true,
    "gridColor":{"condition":{"test":"datum.value % 5 == 0","value":"#8c8c8c"},"value":"#c6c6c6"},
    "gridWidth":{"condition":{"test":"datum.value % 5 == 0","value":1.6},"value":1},
    "ticks":false,"domain":false,"labelFontSize":21,"labelColor":"#444444","labelPadding":14,"labelBound":false,"labelOverlap":false,
    "title":"3000 l-Preis (€)","titleAngle":0,"titleAlign":"left","titleBaseline":"middle","titleX":-91,"titleY":-16,"titleFontSize":21,"titleFontWeight":"bold","titleColor":"#333333"}},
  "stroke":{"field":"year","type":"nominal","legend":null,
   "scale":{"domain":["2013","2012","2011","2010","2009","2008","2007","2006","2005","2004","2003","2002"],"range":["#33419e","#d13a4b","#dc7f2c","#3d9d6d","#a8478f","#8a5a45","#5f9a5c","#a3383a","#3d8ea5","#a2a53a","#e2b224","#6c6c6c"]}}
 }},
{"data":{"values":[{"year":"2013","v":88.64},{"year":"2012","v":86.79},{"year":"2011","v":76.39},{"year":"2010","v":61.46},{"year":"2009","v":51.76}]},
 "mark":{"type":"text","fontSize":19,"color":"#333333","align":"center","baseline":"middle","dy":1},
 "encoding":{"x":{"datum":-0.549,"type":"quantitative","axis":null},"y":{"field":"v","type":"quantitative","axis":null},"text":{"field":"year","type":"nominal"}}},
{"data":{"values":[{}]},
 "mark":{"type":"rect","fill":"#ffffff","stroke":"#555555","strokeWidth":1.5},
 "encoding":{"x":{"datum":6.14,"type":"quantitative","axis":null},"x2":{"datum":11.91},"y":{"datum":45.0,"type":"quantitative","axis":null},"y2":{"datum":40.4}}},
{"data":{"values":[{}]},
 "mark":{"type":"text","text":"Heizölpreis im Bundesdurchschnitt","fontSize":19,"fontWeight":"bold","color":"#333333","align":"center","baseline":"middle"},
 "encoding":{"x":{"datum":9.025,"type":"quantitative","axis":null},"y":{"datum":43.9,"type":"quantitative","axis":null}}},
{"data":{"values":[{}]},
 "mark":{"type":"text","text":"25.03.2013 - 85.80 € / 100 l (inkl. MwSt.)","fontSize":19.5,"fontWeight":"bold","color":"#333333","align":"center","baseline":"middle"},
 "encoding":{"x":{"datum":9.025,"type":"quantitative","axis":null},"y":{"datum":41.7,"type":"quantitative","axis":null}}},
{"data":{"values":[{}]},
 "mark":{"type":"text","text":"Ölpreisentwicklung","font":"DejaVu Sans","fontSize":83,"color":"#666666","align":"left","baseline":"alphabetic"},
 "encoding":{"x":{"datum":0.143,"type":"quantitative","axis":null},"y":{"datum":96.49,"type":"quantitative","axis":null}}}
],
"resolve":{"axis":{"x":"independent","y":"independent"}}
}
